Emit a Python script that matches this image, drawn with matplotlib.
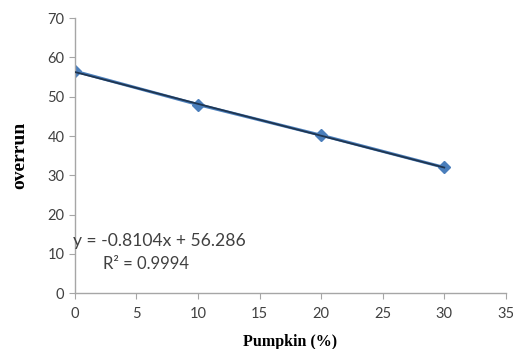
import numpy as np
import matplotlib
matplotlib.use("Agg")
import matplotlib.pyplot as plt

pumpkin = [0, 10, 20, 30]
overrun = [56.5, 48.0, 40.2, 32.0]
slope = -0.8104
intercept = 56.286
eq_text = "y = -0.8104x + 56.286"
r2_text = "R² = 0.9994"

fig = plt.figure(figsize=(5.13, 3.49), dpi=100)
ax = fig.add_axes([0.146, 0.160, 0.840, 0.788])

ax.plot(pumpkin, overrun, color="#4a7ebb", lw=2.2, marker="D", ms=6,
        markerfacecolor="#4a7ebb", markeredgecolor="#4a7ebb", zorder=2)
xs = np.array([pumpkin[0], pumpkin[-1]])
ax.plot(xs, slope * xs + intercept, color="#1f3550", lw=1.3, zorder=3)

ax.set_xlim(0, 35)
ax.set_ylim(0, 70)
ax.set_xticks(range(0, 36, 5))
ax.set_yticks(range(0, 71, 10))
for s in ["top", "right"]:
    ax.spines[s].set_visible(False)
for s in ["left", "bottom"]:
    ax.spines[s].set_color("#a6a6a6")
    ax.spines[s].set_linewidth(1.0)
ax.tick_params(direction="out", length=4, color="#a6a6a6", labelcolor="#404040",
               labelsize=10.5)
for lab in ax.get_xticklabels() + ax.get_yticklabels():
    lab.set_family("Lato")
ax.tick_params(axis="x", pad=6)

ax.set_xlabel("Pumpkin (%)", family="Liberation Serif", fontweight="bold",
              fontsize=11.5, labelpad=9)
ax.set_ylabel("overrun", family="Liberation Serif", fontweight="bold",
              fontsize=14, labelpad=14)

ax.text(-0.15, 13.3, eq_text, family="Lato", fontsize=12.6, color="#404040",
        ha="left", va="center")
ax.text(5.8, 7.5, r2_text, family="Lato", fontsize=12, color="#404040",
        ha="center", va="center")

fig.savefig("out.png", dpi=100)
